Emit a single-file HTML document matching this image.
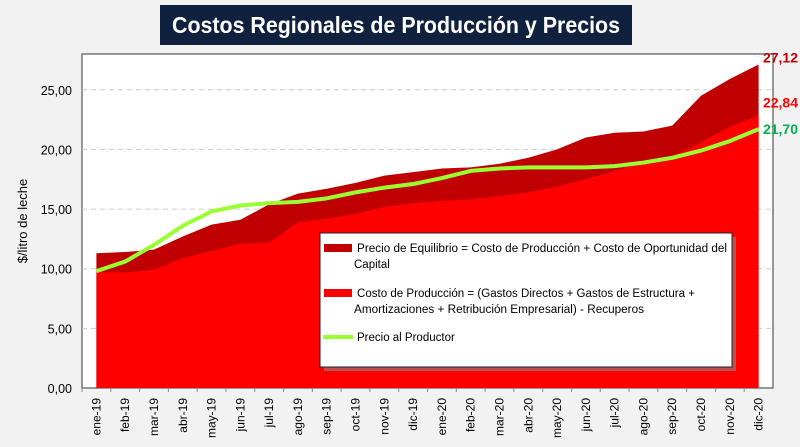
<!DOCTYPE html>
<html><head><meta charset="utf-8"><style>
body{margin:0;background:#f2f2f2;}
svg{display:block;font-family:"Liberation Sans","DejaVu Sans",sans-serif;}
</style></head><body>
<svg id="c" width="800" height="447">
<rect x="0" y="0" width="800" height="447" fill="#f2f2f2"/>
<rect x="160" y="5" width="472" height="40" fill="#10213f"/>
<text x="172" y="33" textLength="448" lengthAdjust="spacingAndGlyphs" fill="#fff" font-size="23" font-weight="bold">Costos Regionales de Producción y Precios</text>
<rect x="82" y="54" width="691" height="334" fill="#fff" stroke="#555" stroke-width="1.2"/>
<g id="grid"></g><g id="areas"></g><g id="axes"></g>
<text transform="translate(27,221) rotate(-90)" text-anchor="middle" font-size="13" fill="#000">$/litro de leche</text>
<g>
<rect x="324" y="237" width="412" height="134" fill="#888" opacity="0.6"/>
<rect x="320" y="233" width="412" height="134" fill="#fff" stroke="#222" stroke-width="1"/>
<rect x="324" y="244" width="28" height="8" fill="#c00000"/>
<text x="357" y="252" font-size="11.5" textLength="370" lengthAdjust="spacingAndGlyphs" fill="#000">Precio de Equilibrio = Costo de Producción + Costo de Oportunidad del</text>
<text x="354" y="268" font-size="11.5" fill="#000">Capital</text>
<rect x="324" y="289" width="28" height="8" fill="#ff0000"/>
<text x="357" y="297" font-size="11.5" textLength="338" lengthAdjust="spacingAndGlyphs" fill="#000">Costo de Producción = (Gastos Directos + Gastos de Estructura +</text>
<text x="354" y="313" font-size="11.5" textLength="290" lengthAdjust="spacingAndGlyphs" fill="#000">Amortizaciones + Retribución Empresarial) - Recuperos</text>
<line x1="323" y1="337" x2="353" y2="337" stroke="#99ff33" stroke-width="4"/>
<text x="357" y="341" font-size="11.5" fill="#000">Precio al Productor</text>
</g>
<g id="labels"></g>
</svg>
<script>
const categories=["ene-19","feb-19","mar-19","abr-19","may-19","jun-19","jul-19","ago-19","sep-19","oct-19","nov-19","dic-19","ene-20","feb-20","mar-20","abr-20","may-20","jun-20","jul-20","ago-20","sep-20","oct-20","nov-20","dic-20"];
const equilibrio=[11.3,11.4,11.6,12.7,13.7,14.1,15.4,16.3,16.7,17.2,17.8,18.1,18.4,18.5,18.8,19.3,20.0,21.0,21.4,21.5,22.0,24.5,25.9,27.12];
const costo=[9.7,9.7,9.9,10.9,11.5,12.1,12.2,13.9,14.2,14.6,15.2,15.5,15.7,15.8,16.1,16.4,16.9,17.5,18.2,18.9,19.4,20.6,21.9,22.84];
const precio=[9.8,10.6,12.0,13.6,14.8,15.3,15.5,15.6,15.9,16.4,16.8,17.1,17.6,18.2,18.4,18.5,18.5,18.5,18.6,18.9,19.3,19.9,20.7,21.7];
const yTicks=[0,5,10,15,20,25];
const NS="http://www.w3.org/2000/svg";
const X0=82,W=691,Y0=388,H=334,YMAX=28;
const step=W/categories.length;
const xs=i=>X0+step*(i+0.5);
const ys=v=>Y0-v/YMAX*H;
const fmt=v=>v.toFixed(2).replace('.',',');
function mk(t,a,p){const e=document.createElementNS(NS,t);for(const k in a)e.setAttribute(k,a[k]);p.appendChild(e);return e;}
const grid=document.getElementById('grid'),areas=document.getElementById('areas'),axes=document.getElementById('axes'),labels=document.getElementById('labels');
yTicks.forEach(v=>{
 if(v>0){const g=mk('line',{x1:X0,x2:X0+W,y1:ys(v),y2:ys(v),stroke:'#ccc','stroke-dasharray':'5,4'},grid);
 
 }
 const t=mk('text',{x:X0-10,y:ys(v)+5,'text-anchor':'end','font-size':'12.5',fill:'#000'},axes);t.textContent=fmt(v);
 
 
});
function areaPath(arr){let d='M'+xs(0)+','+Y0;arr.forEach((v,i)=>d+=' L'+xs(i)+','+ys(v));return d+' L'+xs(arr.length-1)+','+Y0+' Z';}
const a1=mk('path',{d:areaPath(equilibrio),fill:'#c00000'},areas);


const a2=mk('path',{d:areaPath(costo),fill:'#ff0000'},areas);


const ln=mk('polyline',{points:precio.map((v,i)=>xs(i)+','+ys(v)).join(' '),fill:'none',stroke:'#99ff33','stroke-width':4,'stroke-linejoin':'round'},areas);


categories.forEach((c,i)=>{
 const tk=mk('line',{x1:X0+step*i,x2:X0+step*i,y1:Y0,y2:Y0+4,stroke:'#888'},axes);
 
 
 const t=mk('text',{transform:`translate(${xs(i)+4},398) rotate(-90)`,'text-anchor':'end','font-size':'12',fill:'#000'},axes);
 t.textContent=c;
 
 
});
const n=categories.length-1;
[[equilibrio[n],'#c00000',-2,'label-equilibrio-final'],[costo[n],'#ff0000',-8,'label-costo-final'],[precio[n],'#00b050',5,'label-precio-final']].forEach(([v,col,dy,nm])=>{
 const t=mk('text',{x:798,y:ys(v)+dy,'text-anchor':'end','font-size':'14','font-weight':'bold',fill:col},labels);
 t.textContent=fmt(v);
 
 
});
</script>
</body></html>
